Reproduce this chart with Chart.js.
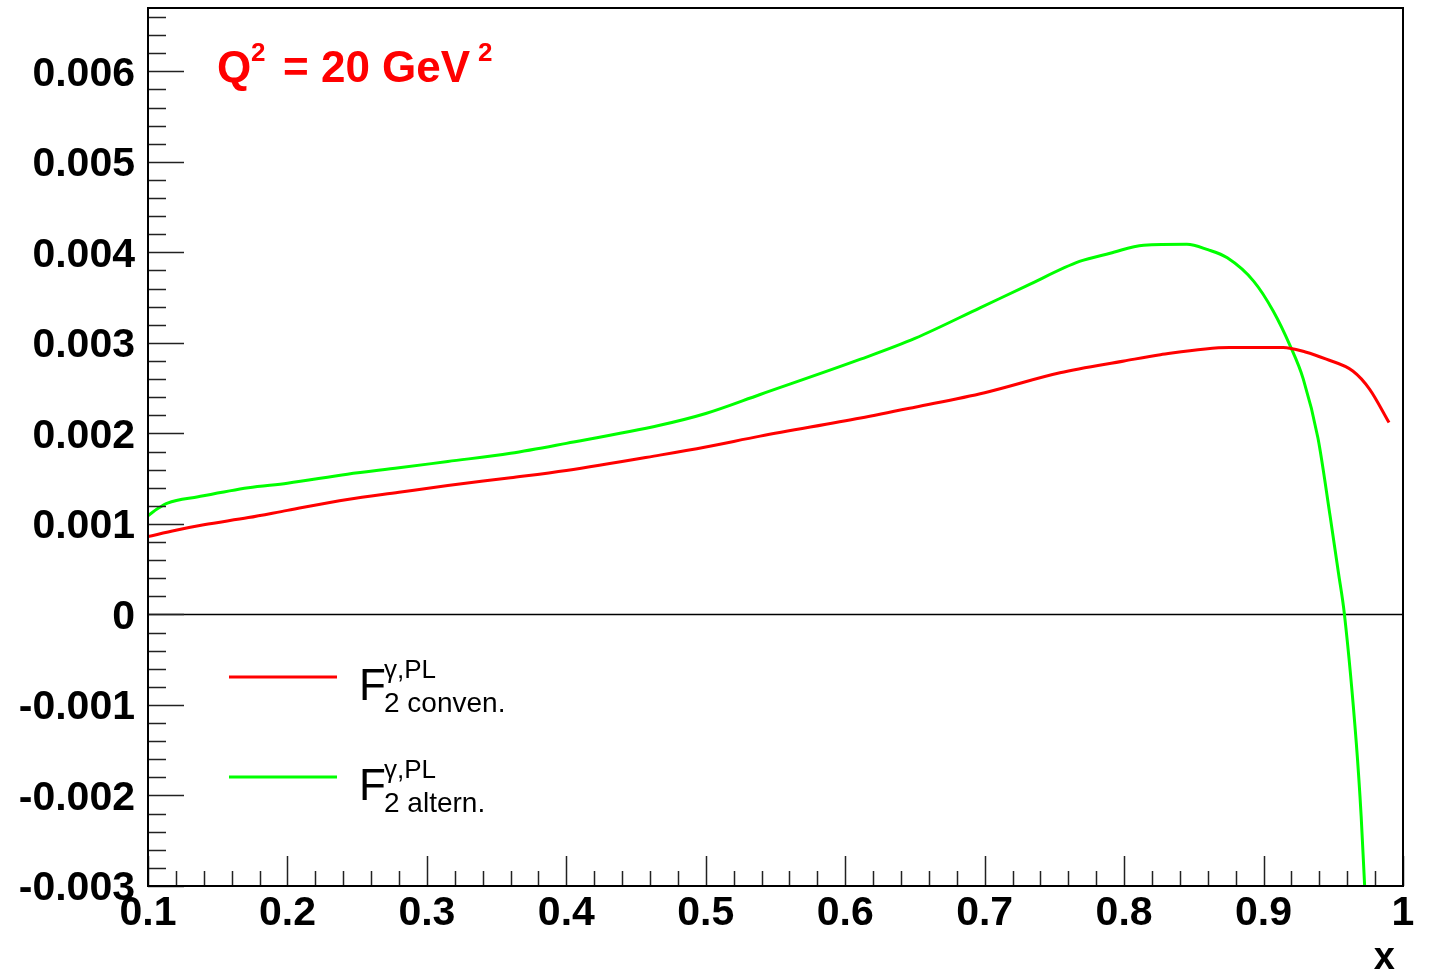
<!DOCTYPE html>
<html>
<head>
<meta charset="utf-8">
<title>F2 photon structure function, Q2 = 20 GeV2</title>
<script src="https://cdn.jsdelivr.net/npm/chart.js@4/dist/chart.umd.min.js"></script>
<style>
  html, body { margin: 0; padding: 0; background: #fff; }
  #wrap { width: 1432px; height: 974px; position: relative; }
</style>
</head>
<body>
<div id="wrap"><canvas id="chartF2"></canvas></div>
<script>
// conventional curve
const convX = [0.10, 0.12, 0.14, 0.172, 0.20, 0.243, 0.28, 0.315, 0.36, 0.40, 0.467, 0.50, 0.539,
    0.611, 0.65, 0.70, 0.754, 0.80, 0.826, 0.8755, 0.914, 0.93, 0.945, 0.964, 0.976, 0.99];
const convY = [0.00086, 0.00093, 0.00099, 0.00107, 0.00115, 0.00127, 0.00135, 0.001425, 0.00151, 0.00159, 0.00176, 0.00185, 0.00197,
    0.00217, 0.00229, 0.00245, 0.00267, 0.00280, 0.00287, 0.00295, 0.00295, 0.00290, 0.00282, 0.00269, 0.00249, 0.00212];

// alternative curve
const altX = [0.10, 0.107, 0.114, 0.136, 0.172, 0.20, 0.243, 0.28, 0.315, 0.36, 0.40, 0.467, 0.50, 0.539,
    0.611, 0.65, 0.697, 0.730, 0.768, 0.79, 0.814, 0.845, 0.86, 0.874, 0.893, 0.907, 0.919, 0.9285,
    0.939, 0.9477, 0.9537, 0.958, 0.9665, 0.970, 0.9725, 0.974];
const altY = [0.00109, 0.00117, 0.00123, 0.00130, 0.00140, 0.00145, 0.00155, 0.00162, 0.00169, 0.00178, 0.00189, 0.00209, 0.00222, 0.00243,
    0.00282, 0.00305, 0.00339, 0.00363, 0.00390, 0.00399, 0.00408, 0.00409, 0.00403, 0.00394, 0.00368, 0.00335, 0.00297, 0.00260,
    0.00195, 0.00109, 0.00046, 0.0, -0.00142, -0.00223, -0.0030, -0.0034];

const xTicks = [0.1, 0.2, 0.3, 0.4, 0.5, 0.6, 0.7, 0.8, 0.9, 1.0];
const xTickLabels = ['0.1', '0.2', '0.3', '0.4', '0.5', '0.6', '0.7', '0.8', '0.9', '1'];
const yTicks = [-0.003, -0.002, -0.001, 0, 0.001, 0.002, 0.003, 0.004, 0.005, 0.006];
const yTickLabels = ['-0.003', '-0.002', '-0.001', '0', '0.001', '0.002', '0.003', '0.004', '0.005', '0.006'];

const FONT = "'Liberation Sans', Arial, Helvetica, sans-serif";
const RED = '#ff0000';
const GREEN = '#00ff00';

function toPoints(xs, ys) {
    return xs.map((x, i) => ({ x: x, y: ys[i] }));
}

// ROOT-like frame: border, zero line, inward tick marks, text
const framePlugin = {
    id: 'frame',
    beforeDatasetsDraw(chart) {
        const { ctx, chartArea: a, scales: { y } } = chart;
        const y0 = y.getPixelForValue(0);
        ctx.save();
        ctx.strokeStyle = '#000';
        ctx.lineWidth = 1.5;
        ctx.beginPath();
        ctx.moveTo(a.left, y0);
        ctx.lineTo(a.right, y0);
        ctx.stroke();
        ctx.restore();
    },
    afterDatasetsDraw(chart) {
        const { ctx, chartArea: a, scales: { x, y } } = chart;
        ctx.save();
        ctx.strokeStyle = '#222';
        ctx.lineWidth = 1.5;
        ctx.beginPath();
        // x ticks, 5 divisions per label
        for (let i = 0; i <= 45; i++) {
            const v = 0.1 + i * 0.02;
            const px = Math.round(x.getPixelForValue(v)) + 0.5;
            const len = i % 5 === 0 ? 30 : 15;
            ctx.moveTo(px, a.bottom);
            ctx.lineTo(px, a.bottom - len);
        }
        // y ticks, 5 divisions per label
        for (let i = 0; i <= 48; i++) {
            const v = -0.003 + i * 0.0002;
            if (v > y.max + 1e-9) break;
            const py = Math.round(y.getPixelForValue(v)) + 0.5;
            const len = i % 5 === 0 ? 36 : 18;
            ctx.moveTo(a.left, py);
            ctx.lineTo(a.left + len, py);
        }
        ctx.stroke();

        ctx.strokeStyle = '#000';
        ctx.lineWidth = 2;
        ctx.strokeRect(a.left, a.top, a.right - a.left, a.bottom - a.top);

        // Q^2 label
        ctx.fillStyle = RED;
        ctx.textBaseline = 'alphabetic';
        ctx.font = 'bold 44px ' + FONT;
        ctx.fillText('Q', 217, 82);
        ctx.fillText('= 20 GeV', 283, 82);
        ctx.font = 'bold 26px ' + FONT;
        ctx.fillText('2', 251, 61);
        ctx.fillText('2', 478, 61);

        // legend
        const entries = [
            { color: RED, sub: '2 conven.', y: 677 },
            { color: GREEN, sub: '2 altern.', y: 777 }
        ];
        entries.forEach(e => {
            ctx.strokeStyle = e.color;
            ctx.lineWidth = 3;
            ctx.beginPath();
            ctx.moveTo(229, e.y);
            ctx.lineTo(337, e.y);
            ctx.stroke();
            ctx.fillStyle = '#000';
            ctx.font = '44px ' + FONT;
            ctx.fillText('F', 359, e.y + 23);
            ctx.font = '26px ' + FONT;
            ctx.fillText('\u03b3,PL', 384, e.y + 1);
            ctx.font = '28px ' + FONT;
            ctx.fillText(e.sub, 384, e.y + 35);
        });

        // axis title
        ctx.fillStyle = '#000';
        ctx.font = 'bold 38px ' + FONT;
        ctx.textAlign = 'right';
        ctx.fillText('x', 1395, 969);
        ctx.restore();
    }
};

const ctxF2 = document.getElementById('chartF2').getContext('2d');
const chartF2 = new Chart(ctxF2, {
    type: 'line',
    data: {
        datasets: [{
            label: 'F2 conven.',
            data: toPoints(convX, convY),
            borderColor: RED,
            borderWidth: 3,
            pointRadius: 0,
            cubicInterpolationMode: 'monotone',
            fill: false
        },
        {
            label: 'F2 altern.',
            data: toPoints(altX, altY),
            borderColor: GREEN,
            borderWidth: 3,
            pointRadius: 0,
            cubicInterpolationMode: 'monotone',
            fill: false
        }]
    },
    options: {
        responsive: true,
        maintainAspectRatio: false,
        animation: false,
        layout: { padding: { top: 8, right: 29, left: 0, bottom: 0 } },
        plugins: {
            legend: { display: false },
            tooltip: { enabled: false }
        },
        scales: {
            x: {
                type: 'linear',
                min: 0.1,
                max: 1.0,
                grid: { display: false },
                border: { display: false },
                afterBuildTicks: s => { s.ticks = xTicks.map(v => ({ value: v })); },
                afterFit: s => { s.height = 88; s.paddingLeft = 0; s.paddingRight = 0; },
                ticks: {
                    autoSkip: false,
                    maxRotation: 0,
                    padding: -5,
                    color: '#000',
                    font: { family: FONT, size: 41, weight: 'bold' },
                    callback: (v, i) => xTickLabels[i]
                }
            },
            y: {
                type: 'linear',
                min: -0.003,
                max: 0.0067,
                grid: { display: false },
                border: { display: false },
                afterBuildTicks: s => { s.ticks = yTicks.map(v => ({ value: v })); },
                afterFit: s => { s.width = 148; s.paddingTop = 0; s.paddingBottom = 0; },
                ticks: {
                    autoSkip: false,
                    padding: 5,
                    labelOffset: 3,
                    color: '#000',
                    font: { family: FONT, size: 41, weight: 'bold' },
                    callback: (v, i) => yTickLabels[i]
                }
            }
        }
    },
    plugins: [framePlugin]
});
</script>
</body>
</html>
